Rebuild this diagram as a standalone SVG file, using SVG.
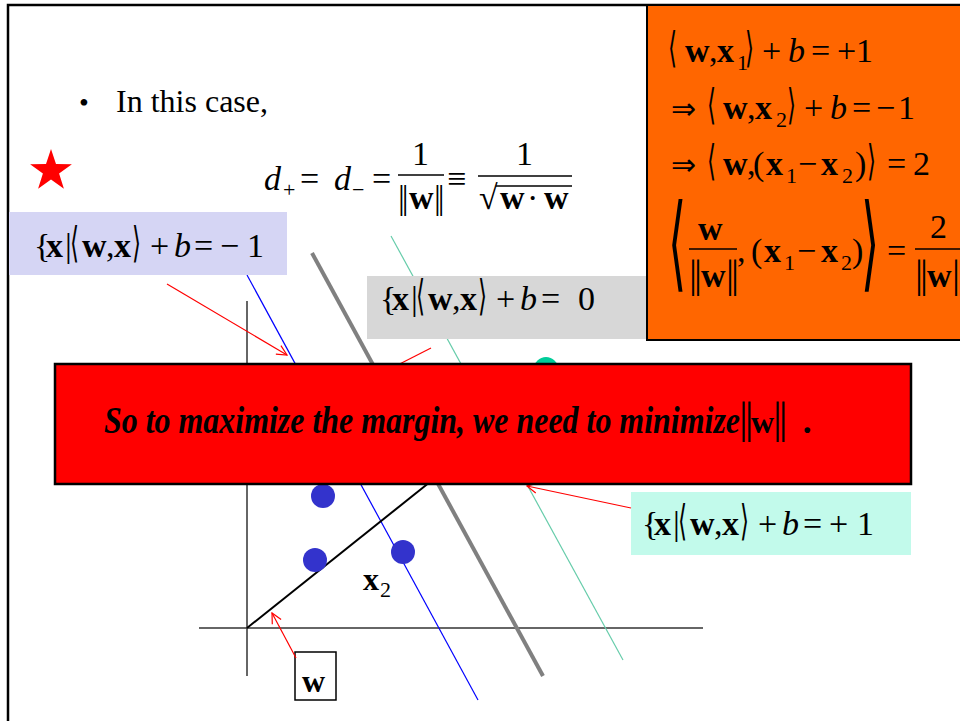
<svg xmlns="http://www.w3.org/2000/svg" width="960" height="721" viewBox="0 0 960 721">
<defs>
<style>
.m{font-family:'Liberation Serif','DejaVu Serif',serif;font-size:34px;fill:#000}
.b{font-weight:bold}
.i{font-style:italic}
.s{font-size:22px}
.br{font-family:'DejaVu Sans','DejaVu Serif',sans-serif;font-size:42px;font-weight:normal;font-style:normal;fill:#000}
.ar{font-family:'DejaVu Sans','DejaVu Serif',sans-serif;font-size:30px;font-weight:normal}
.nb{font-family:'Liberation Serif','DejaVu Serif',serif;font-weight:normal;font-style:normal;letter-spacing:-3px}
.rl{stroke:#FF0000;stroke-width:1.2;fill:none}
</style>
<marker id="ah" viewBox="0 0 12 12" refX="11" refY="6" markerWidth="12" markerHeight="12" markerUnits="userSpaceOnUse" orient="auto">
<path d="M1,1 L11,6 L1,11" fill="none" stroke="#FF0000" stroke-width="1.2"/>
</marker>
</defs>
<rect x="0" y="0" width="960" height="721" fill="#FFFFFF"/>
<g id="frame"><rect x="8" y="5" width="1000" height="760" fill="#FFFFFF" stroke="#000" stroke-width="2.5"/></g>

<g id="bullet">
<text class="m" x="79" y="112" style="font-size:28px">•</text>
<text class="m" x="116" y="112" style="font-size:32px" textLength="152" lengthAdjust="spacingAndGlyphs">In this case,</text>
</g>

<g id="star"><polygon points="51,149 56,164.1 71.9,164.2 59.1,173.6 63.9,188.8 51,179.5 38.1,188.8 42.9,173.6 30.1,164.2 46,164.1" fill="#FF0000"/></g>

<g id="distance-formula">
<text class="m" y="190"><tspan class="i" x="264">d</tspan><tspan class="s" x="283" y="197">+</tspan><tspan x="300" y="190">=</tspan><tspan class="i" x="334">d</tspan><tspan class="s" x="352" y="197">−</tspan><tspan x="372" y="190">=</tspan><tspan x="447">≡</tspan></text>
<text class="m" x="412" y="165">1</text>
<line x1="398" y1="175" x2="444" y2="175" stroke="#000" stroke-width="1.3"/>
<text class="m" y="209"><tspan class="nb" x="398">||</tspan><tspan class="b" x="409">w</tspan><tspan class="nb" x="434">||</tspan></text>
<text class="m" x="516" y="165">1</text>
<line x1="478" y1="176" x2="572" y2="176" stroke="#000" stroke-width="1.3"/>
<text class="m" y="209"><tspan x="479">√</tspan><tspan class="b" x="500">w</tspan><tspan x="527">·</tspan><tspan class="b" x="544">w</tspan></text>
<line x1="496" y1="186" x2="572" y2="186" stroke="#000" stroke-width="1.3"/>
</g>

<g id="plot">
<line x1="247" y1="301" x2="247" y2="676" stroke="#333" stroke-width="1.5"/>
<line x1="199" y1="628" x2="703" y2="628" stroke="#333" stroke-width="1.5"/>
<line x1="247" y1="275" x2="478" y2="700" stroke="#0000FF" stroke-width="1.2"/>
<line x1="312" y1="253" x2="543" y2="676" stroke="#808080" stroke-width="4"/>
<line x1="391" y1="236" x2="623" y2="660" stroke="#66CCAA" stroke-width="1.2"/>
<line x1="247" y1="628" x2="445" y2="470" stroke="#000" stroke-width="2"/>
<circle cx="323" cy="496" r="12" fill="#3333CC"/>
<circle cx="315" cy="560" r="12" fill="#3333CC"/>
<circle cx="403" cy="552" r="12" fill="#3333CC"/>
<circle cx="546" cy="369" r="12" fill="#00CC99"/>
</g>

<g id="x2-label"><text class="m" style="font-size:32px"><tspan class="b" x="363" y="590">x</tspan><tspan class="s" x="380" y="597">2</tspan></text></g>

<g id="w-label">
<rect x="295" y="652" width="41" height="48" fill="#FFFFFF" stroke="#000" stroke-width="1.5"/>
<text class="m b" x="302" y="692" style="font-size:32px">w</text>
</g>

<g id="label-minus">
<rect x="9" y="212" width="278" height="63" fill="#D5D5F4"/>
<text class="m" y="257"><tspan x="34">{</tspan><tspan class="b" x="46">x</tspan><tspan x="65">|</tspan><tspan class="b" x="82">w</tspan><tspan x="106">,</tspan><tspan class="b" x="114">x</tspan><tspan x="150">+</tspan><tspan class="i" x="174">b</tspan><tspan x="194">=</tspan><tspan x="220">−</tspan><tspan x="247">1</tspan></text>
<text class="br" transform="translate(70,257) scale(0.55,1)">⟨</text>
<text class="br" transform="translate(132,257) scale(0.55,1)">⟩</text>
</g>

<g id="label-zero">
<rect x="367" y="276" width="280" height="63" fill="#D7D7D7"/>
<text class="m" y="310"><tspan x="380">{</tspan><tspan class="b" x="392">x</tspan><tspan x="411">|</tspan><tspan class="b" x="428">w</tspan><tspan x="452">,</tspan><tspan class="b" x="460">x</tspan><tspan x="496">+</tspan><tspan class="i" x="520">b</tspan><tspan x="541">=</tspan><tspan x="578">0</tspan></text>
<text class="br" transform="translate(416,310) scale(0.55,1)">⟨</text>
<text class="br" transform="translate(478,310) scale(0.55,1)">⟩</text>
</g>

<g id="label-plus">
<rect x="631" y="492" width="280" height="63" fill="#C2FAEB"/>
<text class="m" y="535"><tspan x="642">{</tspan><tspan class="b" x="654">x</tspan><tspan x="673">|</tspan><tspan class="b" x="690">w</tspan><tspan x="714">,</tspan><tspan class="b" x="722">x</tspan><tspan x="758">+</tspan><tspan class="i" x="782">b</tspan><tspan x="803">=</tspan><tspan x="829">+</tspan><tspan x="857">1</tspan></text>
<text class="br" transform="translate(678,535) scale(0.55,1)">⟨</text>
<text class="br" transform="translate(740,535) scale(0.55,1)">⟩</text>
</g>

<g id="connectors">
<line class="rl" x1="167" y1="284" x2="287" y2="355" marker-end="url(#ah)"/>
<line class="rl" x1="431" y1="348" x2="380" y2="374"/>
<line class="rl" x1="631" y1="508" x2="527" y2="486" marker-end="url(#ah)"/>
<line class="rl" x1="296" y1="658" x2="272" y2="613" marker-end="url(#ah)"/>
</g>

<g id="banner">
<rect x="55" y="364" width="856" height="120" fill="#FF0000" stroke="#000" stroke-width="2.5"/>
<text class="m b i" x="104" y="433" style="font-size:37px" textLength="636" lengthAdjust="spacingAndGlyphs">So to maximize the margin, we need to minimize</text>
<text class="m" y="433"><tspan class="nb" x="739" style="font-size:44px">||</tspan><tspan class="b" x="751" style="font-size:32px">w</tspan><tspan class="nb" x="773" style="font-size:44px">||</tspan><tspan class="b i" x="804" style="font-size:36px">.</tspan></text>
</g>

<g id="derivation">
<rect x="647" y="5" width="330" height="335" fill="#FF6600" stroke="#000" stroke-width="2"/>
<text class="m" y="62"><tspan class="b" x="685">w</tspan><tspan x="709">,</tspan><tspan class="b" x="717">x</tspan><tspan class="s" x="737" y="70">1</tspan><tspan x="762" y="62">+</tspan><tspan class="i" x="788">b</tspan><tspan x="811">=</tspan><tspan x="837">+</tspan><tspan x="856">1</tspan></text>
<text class="br" transform="translate(668,62) scale(0.55,1)">⟨</text>
<text class="br" transform="translate(745,62) scale(0.55,1)">⟩</text>
<text class="m" y="119"><tspan class="ar" x="671">⇒</tspan><tspan class="b" x="723">w</tspan><tspan x="747">,</tspan><tspan class="b" x="755">x</tspan><tspan class="s" x="776" y="127">2</tspan><tspan x="804" y="119">+</tspan><tspan class="i" x="830">b</tspan><tspan x="852">=</tspan><tspan x="876">−</tspan><tspan x="898">1</tspan></text>
<text class="br" transform="translate(707,119) scale(0.55,1)">⟨</text>
<text class="br" transform="translate(787,119) scale(0.55,1)">⟩</text>
<text class="m" y="175"><tspan class="ar" x="671">⇒</tspan><tspan class="b" x="723">w</tspan><tspan x="747">,</tspan><tspan x="753">(</tspan><tspan class="b" x="766">x</tspan><tspan class="s" x="786" y="183">1</tspan><tspan x="798" y="175">−</tspan><tspan class="b" x="821">x</tspan><tspan class="s" x="842" y="183">2</tspan><tspan x="855" y="175">)</tspan><tspan x="887">=</tspan><tspan x="913">2</tspan></text>
<text class="br" transform="translate(707,175) scale(0.55,1)">⟨</text>
<text class="br" transform="translate(867,175) scale(0.55,1)">⟩</text>
<text class="br" transform="translate(668,278) scale(0.45,1)" style="font-size:104px">⟨</text>
<text class="br" transform="translate(861,278) scale(0.45,1)" style="font-size:104px">⟩</text>
<text class="m b" x="698" y="240">w</text>
<line x1="689" y1="249" x2="737" y2="249" stroke="#000" stroke-width="1.3"/>
<text class="m" y="287"><tspan class="nb" x="689" style="font-size:40px">||</tspan><tspan class="b" x="701">w</tspan><tspan class="nb" x="726" style="font-size:40px">||</tspan></text>
<text class="m" y="262"><tspan x="737">,</tspan><tspan x="751">(</tspan><tspan class="b" x="764">x</tspan><tspan class="s" x="784" y="270">1</tspan><tspan x="797" y="262">−</tspan><tspan class="b" x="821">x</tspan><tspan class="s" x="841" y="270">2</tspan><tspan x="852" y="262">)</tspan><tspan x="887">=</tspan></text>
<text class="m" x="930" y="238">2</text>
<line x1="915" y1="249" x2="965" y2="249" stroke="#000" stroke-width="1.3"/>
<text class="m" y="287"><tspan class="nb" x="915" style="font-size:40px">||</tspan><tspan class="b" x="927">w</tspan><tspan class="nb" x="952" style="font-size:40px">||</tspan></text>
</g>
</svg>
